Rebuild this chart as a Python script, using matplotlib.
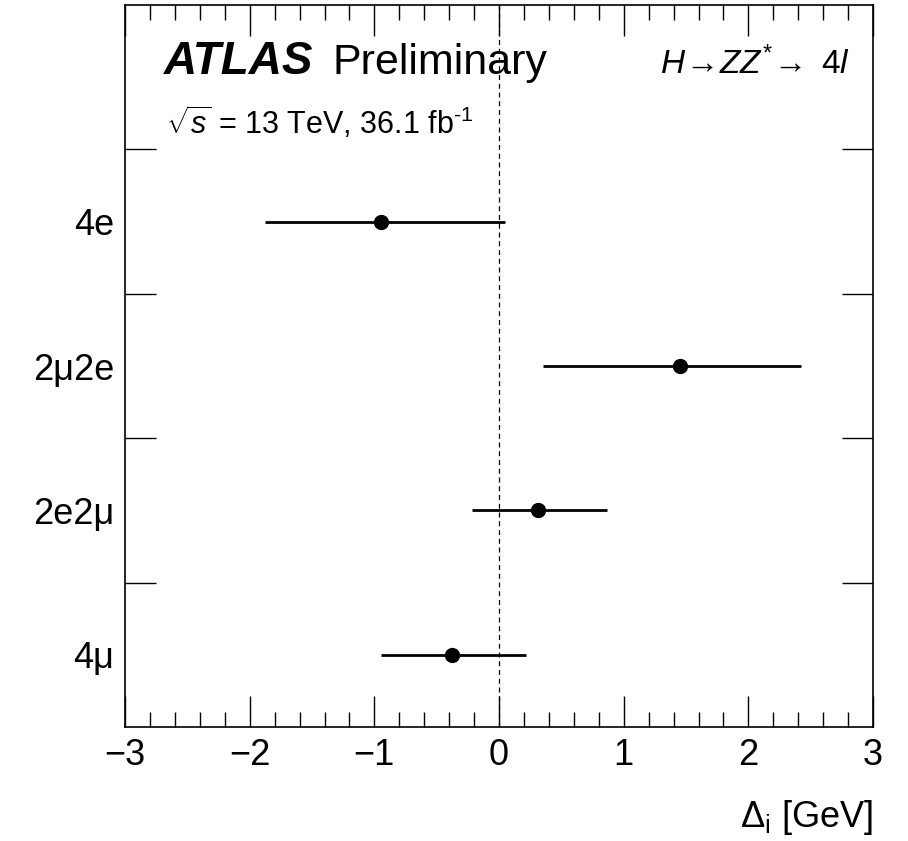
import numpy as np
import matplotlib
matplotlib.use("Agg")
import matplotlib.pyplot as plt
from matplotlib.ticker import MultipleLocator, FixedLocator

plt.rcParams['font.family'] = ['Liberation Sans', 'DejaVu Sans']
plt.rcParams['mathtext.fontset'] = 'custom'
plt.rcParams['mathtext.rm'] = 'Liberation Sans'
plt.rcParams['mathtext.it'] = 'Liberation Sans:italic'
plt.rcParams['mathtext.bf'] = 'Liberation Sans:bold'

# channels from bottom to top
channels = ['4μ', '2e2μ', '2μ2e', '4e']
delta = [-0.38, 0.31, 1.45, -0.95]
err_lo = [0.57, 0.53, 1.10, 0.93]
err_hi = [0.60, 0.56, 0.97, 1.00]

fig = plt.figure(figsize=(9.08, 8.41), dpi=100)
ax = fig.add_axes([0.1377, 0.1356, 0.8238, 0.8584])

ypos = np.arange(len(channels)) + 0.5
ax.errorbar(delta, ypos, xerr=[err_lo, err_hi], fmt='o', color='black',
            ms=10, elinewidth=2, capsize=0, zorder=3)
ax.axvline(0, color='black', ls=(0, (4, 3)), lw=0.9, zorder=1)

ax.set_xlim(-3, 3)
ax.set_ylim(0, 5)
ax.xaxis.set_major_locator(FixedLocator([-3, -2, -1, 0, 1, 2, 3]))
ax.xaxis.set_minor_locator(MultipleLocator(0.2))
ax.yaxis.set_major_locator(FixedLocator([1, 2, 3, 4]))
ax.yaxis.set_minor_locator(FixedLocator(ypos))
ax.set_yticklabels([])
ax.set_yticklabels(channels, minor=True)

ax.tick_params(axis='x', which='both', direction='in', top=True, bottom=True,
               labelsize=26, pad=8)
ax.tick_params(axis='x', which='major', length=22, width=1)
ax.tick_params(axis='x', which='minor', length=11, width=1)
ax.tick_params(axis='y', which='major', direction='in', left=True, right=True,
               length=22, width=1)
ax.tick_params(axis='y', which='minor', length=0, labelsize=26, pad=8)
for s in ax.spines.values():
    s.set_linewidth(1.2)

ax.set_xlabel(r'$\Delta_{\rm i}$ [GeV]', fontsize=26, loc='right', labelpad=18)

ax.text(0.052, 0.905, 'ATLAS', transform=ax.transAxes, fontsize=33,
        fontweight='bold', style='italic')
ax.text(0.278, 0.905, 'Preliminary', transform=ax.transAxes, fontsize=31)
ax.text(0.055, 0.821, '$\\sqrt{s}$ = 13 TeV, 36.1 fb$^{\\mathregular{\u2010}1}$',
        transform=ax.transAxes, fontsize=22)
ax.text(0.97, 0.905, r'$H\!\rightarrow\! ZZ^{*}\!\rightarrow$ 4$l$',
        transform=ax.transAxes, fontsize=24, ha='right')

fig.savefig('out.png', dpi=100)
